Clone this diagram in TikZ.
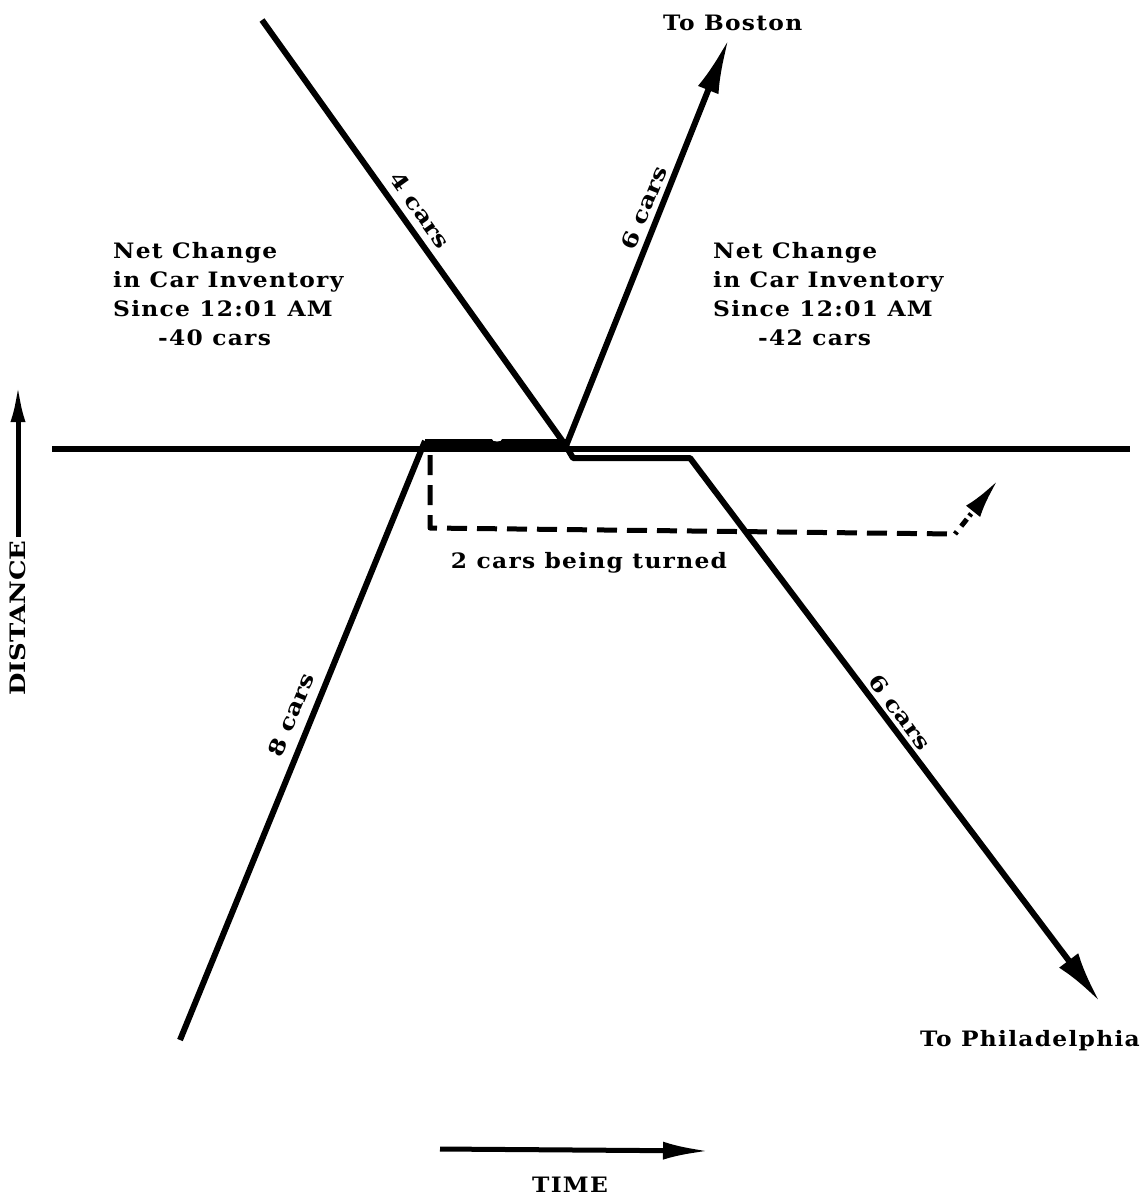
\documentclass[tikz,border=0pt]{standalone}
\usepackage{fontspec}
\setmainfont{DejaVu Serif}[FakeStretch=1.1, LetterSpace=6]
\newfontfamily\rotfont{DejaVu Serif}[FakeStretch=1.22]
\usetikzlibrary{arrows.meta}
\begin{document}
\begin{tikzpicture}[x=1bp,y=-1bp,
  road/.style={line width=6bp, line join=round},
  lbl/.style={font=\bfseries\fontsize{21.3}{24}\selectfont, inner sep=0pt},
  rlbl/.style={font=\rotfont\bfseries\fontsize{21.3}{24}\selectfont, inner sep=0pt},
  blk/.style={font=\bfseries\fontsize{21.3}{29.3}\selectfont, inner sep=0pt, align=left, anchor=north west},
  turnpath/.style={line width=5bp, dash pattern=on 20bp off 10bp, line join=round}]
\useasboundingbox (0,0) rectangle (1148,1199);
% coordinates
\coordinate (hl) at (52,449);
\coordinate (hr) at (1130,449);
\coordinate (n4) at (262,20);
\coordinate (x) at (566,446);
\coordinate (bos) at (729,38);
\coordinate (s8) at (180,1040);
\coordinate (j8) at (425,441);
\coordinate (tA) at (425,445);
\coordinate (tB) at (566,445);
\coordinate (p1) at (573,458);
\coordinate (p2) at (690,458);
\coordinate (phl) at (1100,1002);
\coordinate (d0) at (430,455);
\coordinate (d1) at (430,528);
\coordinate (d2) at (955,534);
\coordinate (d3) at (998,480);
\coordinate (da) at (18,537);
\coordinate (db) at (18,384);
\coordinate (ta) at (440,1149);
\coordinate (tb) at (709,1151);
% station line
\draw[road] (hl) -- (hr);
% train lines
\draw[road] (n4) -- (x);
\draw[road, -{Latex[length=56bp,width=22bp]}] (x) -- (bos);
\draw[road] (s8) -- (j8);
\draw[line width=13bp] (tA) -- (tB);
\fill[white] (497,439) ellipse (5 and 2.5);
\draw[road, -{Latex[length=52bp,width=24bp]}] (x) -- (p1) -- (p2) -- (phl);
% turning cars
\draw[turnpath] (d0) -- (d1) -- (d2);
\draw[line width=5bp, dash pattern=on 3bp off 7bp on 9bp off 4bp, -{Latex[length=40bp,width=18bp]}] (d2) -- (d3);
% axes
\draw[line width=5bp, -{Latex[length=38bp,width=15bp]}] (da) -- (db);
\draw[line width=5bp, -{Latex[length=46bp,width=18bp]}] (ta) -- (tb);
% labels
\node[rlbl, rotate=-54.5] (l4) at (420,210) {4 cars};
\node[rlbl, rotate=68] (l6a) at (644,208) {6 cars};
\node[rlbl, rotate=68] (l8) at (291,715) {8 cars};
\node[rlbl, rotate=-53] (l6b) at (900,712) {6 cars};
\node[blk] (netL) at (113,242) {Net Change\\in Car Inventory\\Since 12:01 AM\\\hspace*{45bp}-40 cars};
\node[blk] (netR) at (713,242) {Net Change\\in Car Inventory\\Since 12:01 AM\\\hspace*{45bp}-42 cars};
\node[lbl, anchor=base] (turn) at (589,568) {2 cars being turned};
\node[lbl, anchor=base west] (boston) at (663,30) {To Boston};
\node[lbl, anchor=base west] (phil) at (920,1046) {To Philadelphia};
\node[lbl, anchor=base] (time) at (570,1192) {TIME};
\node[rlbl, rotate=90] (dist) at (18,618) {DISTANCE};
\end{tikzpicture}
\end{document}
